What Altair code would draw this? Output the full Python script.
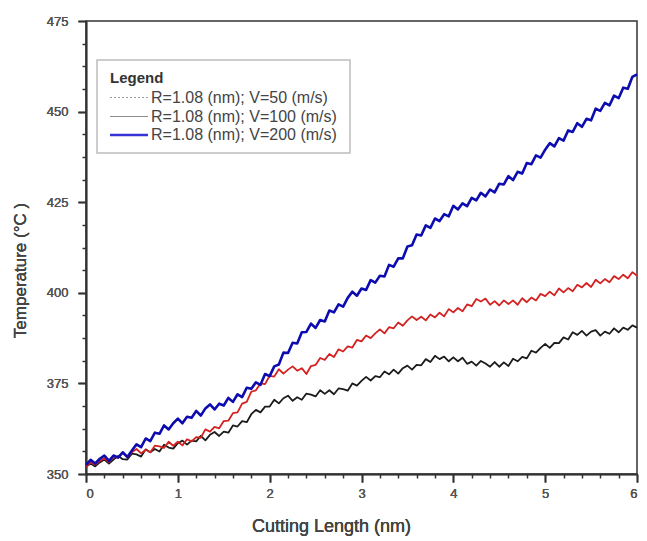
import altair as alt
import pandas as pd

# Cutting length samples (nm), every 0.05 nm
cutting_length = [round(i * 0.05, 2) for i in range(121)]

series_names = [
    "R=1.08 (nm); V=50 (m/s)",
    "R=1.08 (nm); V=100 (m/s)",
    "R=1.08 (nm); V=200 (m/s)",
]

temp_v50 = [
    352.0, 352.9, 352.1, 353.2, 354.0, 352.9, 354.0, 355.0, 354.1, 354.0,
    355.6, 355.4, 354.8, 356.8, 356.0, 356.9, 356.2, 358.1, 357.3, 357.0,
    358.5, 359.2, 358.1, 359.2, 359.0, 360.5, 359.3, 360.8, 361.6, 360.5,
    361.7, 361.4, 363.4, 363.1, 364.6, 364.3, 366.5, 367.7, 367.0, 368.6,
    368.6, 370.5, 369.5, 370.9, 371.6, 370.2, 371.2, 370.5, 372.2, 371.9,
    371.4, 373.1, 372.1, 373.1, 372.0, 373.6, 373.4, 373.0, 375.0, 374.4,
    375.7, 376.8, 375.8, 377.0, 376.7, 378.3, 377.5, 378.8, 377.7, 379.2,
    379.9, 378.8, 380.1, 380.0, 381.7, 380.9, 382.6, 381.7, 382.4, 381.1,
    382.2, 381.1, 382.1, 380.4, 381.0, 379.9, 381.2, 380.5, 379.6, 380.9,
    379.6, 380.8, 379.8, 381.8, 381.1, 382.3, 381.9, 384.0, 383.5, 384.8,
    385.9, 384.8, 386.2, 386.1, 387.7, 387.1, 389.1, 388.4, 389.5, 388.2,
    389.3, 389.7, 388.2, 389.3, 388.7, 390.2, 389.1, 390.4, 389.8, 391.0,
    390.4,
]

temp_v100 = [
    352.0, 353.2, 352.6, 353.6, 354.4, 353.3, 354.8, 354.5, 355.8, 354.6,
    356.0, 356.9, 355.7, 356.7, 356.0, 357.8, 357.6, 357.2, 358.9, 357.8,
    358.9, 357.9, 359.6, 359.0, 360.2, 360.0, 362.3, 361.7, 363.0, 362.6,
    364.6, 364.7, 366.8, 367.0, 369.4, 369.9, 372.7, 373.1, 375.0, 374.8,
    377.1, 376.9, 378.9, 377.7, 378.8, 379.7, 378.5, 379.2, 377.6, 379.8,
    380.1, 382.0, 381.5, 383.1, 382.3, 384.4, 383.8, 385.2, 384.9, 387.0,
    386.6, 388.2, 387.5, 388.8, 389.9, 388.8, 390.5, 390.2, 391.8, 390.9,
    392.4, 393.5, 392.5, 393.4, 392.4, 394.0, 393.2, 394.5, 393.5, 395.5,
    394.6, 395.8, 394.9, 396.8, 396.3, 398.3, 397.6, 398.4, 396.7, 397.7,
    396.5, 397.9, 396.9, 397.9, 396.7, 398.5, 397.4, 398.7, 397.9, 399.7,
    399.1, 400.3, 399.3, 401.2, 400.1, 401.3, 400.4, 402.2, 401.5, 402.7,
    401.6, 403.6, 402.6, 403.8, 402.9, 404.6, 403.8, 405.0, 404.0, 405.7,
    404.7,
]

temp_v200 = [
    352.5, 353.9, 352.9, 354.2, 355.1, 353.6, 355.1, 354.5, 356.0, 354.7,
    356.5, 358.2, 357.4, 359.8, 359.1, 361.4, 361.1, 363.4, 362.3, 364.0,
    365.3, 364.0, 365.8, 365.5, 367.4, 366.1, 368.1, 369.2, 367.8, 369.4,
    368.9, 371.0, 369.9, 372.0, 371.2, 373.8, 373.5, 375.3, 374.6, 377.6,
    377.0, 379.7, 380.2, 383.5, 383.4, 386.2, 386.0, 389.1, 389.2, 391.5,
    390.3, 392.5, 392.1, 395.1, 394.6, 396.8, 396.2, 398.6, 400.3, 399.2,
    401.2, 400.8, 403.5, 402.8, 404.7, 404.5, 407.7, 407.2, 409.5, 409.5,
    412.8, 413.1, 416.1, 415.8, 418.6, 417.9, 420.5, 419.8, 421.7, 421.1,
    424.0, 423.0, 424.7, 423.9, 426.2, 425.5, 427.6, 426.6, 428.5, 427.7,
    430.1, 429.9, 432.2, 431.1, 433.4, 432.9, 435.8, 435.5, 437.9, 437.3,
    439.5, 441.3, 440.4, 442.7, 442.0, 444.8, 444.4, 446.8, 445.8, 448.0,
    447.6, 450.8, 450.2, 452.4, 451.7, 454.4, 453.7, 456.6, 456.3, 459.6,
    460.3,
]

x_major = [0, 1, 2, 3, 4, 5, 6]
x_minor = [0.2, 0.4, 0.6, 0.8, 1.2, 1.4, 1.6, 1.8, 2.2, 2.4, 2.6, 2.8,
           3.2, 3.4, 3.6, 3.8, 4.2, 4.4, 4.6, 4.8, 5.2, 5.4, 5.6, 5.8]
y_major = [350, 375, 400, 425, 450, 475]
y_minor = [356.25, 362.5, 368.75, 381.25, 387.5, 393.75, 406.25, 412.5,
           418.75, 431.25, 437.5, 443.75, 456.25, 462.5, 468.75]

line_colors = ["#1c1c1c", "#d42222", "#0c0cb0"]
line_widths = [1.8, 1.8, 2.6]
legend_colors = ["#9a9a9a", "#8c8c8c", "#3434d6"]
legend_dash = [[2, 2], [1, 0], [1, 0]]
legend_widths = [1.2, 1.2, 2.4]

temps = [temp_v50, temp_v100, temp_v200]

frames = []
for name, vals in zip(series_names, temps):
    frames.append(pd.DataFrame({"x": cutting_length, "T": vals, "series": name}))
df_all = pd.concat(frames, ignore_index=True)

x_scale = alt.Scale(domain=[0, 6], nice=False)
y_scale = alt.Scale(domain=[350, 475], nice=False, zero=False)

x_enc = alt.X(
    "x:Q",
    scale=x_scale,
    axis=alt.Axis(
        title="Cutting Length (nm)",
        values=x_major,
        format="d",
        tickSize=8,
        labelFontSize=13,
        labelPadding=5,
        titlePadding=17,
        titleFontSize=18,
        titleX=245,
        orient="bottom",
    ),
)
y_enc = alt.Y(
    "T:Q",
    scale=y_scale,
    axis=alt.Axis(
        title="Temperature (°C )",
        values=y_major,
        format="d",
        tickSize=8,
        labelFontSize=13,
        labelPadding=10,
        titlePadding=17,
        titleFontSize=17,
        titleY=249,
        orient="left",
    ),
)

layers = []
for name, col, w in zip(series_names, line_colors, line_widths):
    layers.append(
        alt.Chart(df_all)
        .transform_filter(alt.datum.series == name)
        .mark_line(strokeWidth=w, strokeJoin="round")
        .encode(x=x_enc, y=y_enc, color=alt.value(col))
    )

# minor ticks: an axis-only layer sharing the same scales
minor_layer = (
    alt.Chart(df_all)
    .transform_filter("false")
    .mark_point()
    .encode(
        x=alt.X("x:Q", scale=x_scale,
                axis=alt.Axis(values=x_minor, labels=False, domain=False,
                              tickSize=4, title=None, orient="bottom")),
        y=alt.Y("T:Q", scale=y_scale,
                axis=alt.Axis(values=y_minor, labels=False, domain=False,
                              tickSize=4, title=None, orient="left")),
    )
)

# legend box (framed panel in the upper-left of the plot)
one_row = pd.DataFrame({"k": [0]})
legend_parts = [
    alt.Chart(one_row).mark_rect(fill="#ffffff", stroke="#bdbdbd", strokeWidth=1.5).encode(
        x=alt.value(11), x2=alt.value(264), y=alt.value(39), y2=alt.value(132)
    ),
    alt.Chart(one_row).mark_text(
        text="Legend", align="left", baseline="middle", font="Liberation Sans",
        fontSize=15, fontWeight="bold", color="#333333"
    ).encode(x=alt.value(24), y=alt.value(57)),
]
row_y = [76.5, 95.5, 114]
for name, col, dash, w, yy in zip(series_names, legend_colors, legend_dash, legend_widths, row_y):
    legend_parts.append(
        alt.Chart(one_row).mark_rule(color=col, strokeDash=dash, strokeWidth=w).encode(
            x=alt.value(24), x2=alt.value(62), y=alt.value(yy)
        )
    )
    legend_parts.append(
        alt.Chart(one_row).mark_text(
            text=name, align="left", baseline="middle", font="Liberation Sans",
            fontSize=16, color="#444444"
        ).encode(x=alt.value(65), y=alt.value(yy))
    )

chart = (
    alt.layer(*layers, minor_layer, *legend_parts)
    .resolve_axis(x="independent", y="independent")
    .properties(
        width=551,
        height=453,
        autosize=alt.AutoSizeParams(type="none"),
        padding={"left": 78, "top": 13, "right": 2, "bottom": 66},
    )
    .configure_view(stroke="#333333", strokeWidth=1.5)
    .configure_axis(
        grid=False,
        domainColor="#333333",
        domainWidth=1.5,
        tickColor="#333333",
        tickWidth=1.5,
        labelColor="#555555",
        labelFont="Liberation Sans",
        titleFont="Liberation Sans",
        titleFontWeight="normal",
        titleColor="#444444",
    )
)

chart.save("out.html", embed_options={"renderer": "svg", "actions": False})
